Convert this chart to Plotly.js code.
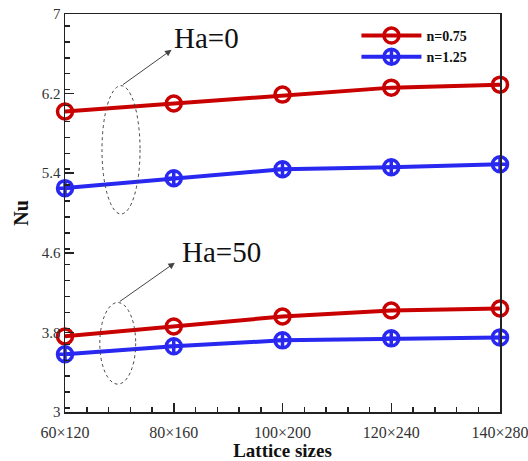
<!DOCTYPE html>
<html><head><meta charset="utf-8">
<script src="https://cdn.plot.ly/plotly-3.0.1.min.js"></script>
<style>html,body{margin:0;padding:0;background:#fff}#c{width:528px;height:461px}</style>
</head><body><div id="c"></div>
<script>
var categories = ["60×120","80×160","100×200","120×240","140×280"];
var xIndex = [0,1,2,3,4];
var red_Ha0 = [6.02,6.10,6.19,6.26,6.29];
var blue_Ha0 = [5.25,5.35,5.44,5.46,5.49];
var red_Ha50 = [3.76,3.86,3.96,4.02,4.04];
var blue_Ha50 = [3.58,3.66,3.72,3.74,3.75];
var yTicks = [3,3.8,4.6,5.4,6.2,7];

var RED = '#c80000', BLUE = '#2828f0';
function tr(y, color, sym, name, show){
  return {x:xIndex, y:y, type:'scatter', mode:'lines+markers', name:name, showlegend:show,
    line:{color:color,width:4}, cliponaxis:false,
    marker:{symbol:sym,size:15,color:color,line:{color:color,width:3.5}}};
}
var data = [
  tr(red_Ha0, RED,'circle-open','n=0.75',true),
  tr(blue_Ha0, BLUE,'circle-cross-open','n=1.25',true),
  tr(red_Ha50, RED,'circle-open','n=0.75',false),
  tr(blue_Ha50, BLUE,'circle-cross-open','n=1.25',false)
];
var F = 'Liberation Serif, Times New Roman, serif';
var layout = {
  width:528, height:461, margin:{l:65,r:28,t:14,b:49},
  paper_bgcolor:'#fff', plot_bgcolor:'#fff',
  font:{family:F, color:'#222'},
  xaxis:{range:[0,4], tickvals:xIndex, ticktext:categories, ticks:'inside', ticklen:9, tickwidth:1.5,
    tickcolor:'#222', showgrid:false, zeroline:false, showline:true, linecolor:'#222', linewidth:1.5, mirror:true,
    minor:{dtick:0.2, ticks:'inside', ticklen:5, tickcolor:'#222', showgrid:false},
    ticklabeloverflow:'allow', ticklabelstandoff:5,
    tickfont:{family:F,size:16,color:'#333'},
    title:{text:'<b>Lattice sizes</b>', font:{family:F,size:19,color:'#111'}, standoff:2}},
  yaxis:{range:[3,7], tickvals:yTicks, ticks:'inside', ticklen:9, tickwidth:1.5, tickcolor:'#222',
    showgrid:false, zeroline:false, showline:true, linecolor:'#222', linewidth:1.5, mirror:true,
    minor:{dtick:0.16, ticks:'inside', ticklen:5, tickcolor:'#222', showgrid:false},
    tickfont:{family:F,size:15,color:'#333'},
    title:{text:'<b>Nu</b>', font:{family:F,size:20,color:'#111'}, standoff:8}},
  legend:{x:0.67, y:0.985, xanchor:'left', yanchor:'top', bgcolor:'rgba(0,0,0,0)',
    font:{family:F,size:14,color:'#111',weight:'bold'}, tracegroupgap:0, itemwidth:60},
  shapes:[
    {type:'circle', xref:'x', yref:'y', x0:0.34, x1:0.69, y0:4.99, y1:6.28, line:{color:'#444',width:1,dash:'dot'}},
    {type:'circle', xref:'x', yref:'y', x0:0.32, x1:0.65, y0:3.28, y1:4.10, line:{color:'#444',width:1,dash:'dot'}}
  ],
  annotations:[
    {x:0.98, y:6.64, ax:0.52, ay:6.28, xref:'x', yref:'y', axref:'x', ayref:'y', showarrow:true,
     arrowhead:2, arrowsize:1.3, arrowwidth:1, arrowcolor:'#444', text:''},
    {x:0.98, y:6.76, xref:'x', yref:'y', xanchor:'left', yanchor:'middle', showarrow:false,
     text:'Ha=0', font:{family:F,size:29,color:'#111'}},
    {x:1.01, y:4.50, ax:0.49, ay:4.10, xref:'x', yref:'y', axref:'x', ayref:'y', showarrow:true,
     arrowhead:2, arrowsize:1.3, arrowwidth:1, arrowcolor:'#444', text:''},
    {x:1.06, y:4.61, xref:'x', yref:'y', xanchor:'left', yanchor:'middle', showarrow:false,
     text:'Ha=50', font:{family:F,size:29,color:'#111'}}
  ]
};
Plotly.newPlot('c', data, layout, {staticPlot:true});
</script></body></html>
